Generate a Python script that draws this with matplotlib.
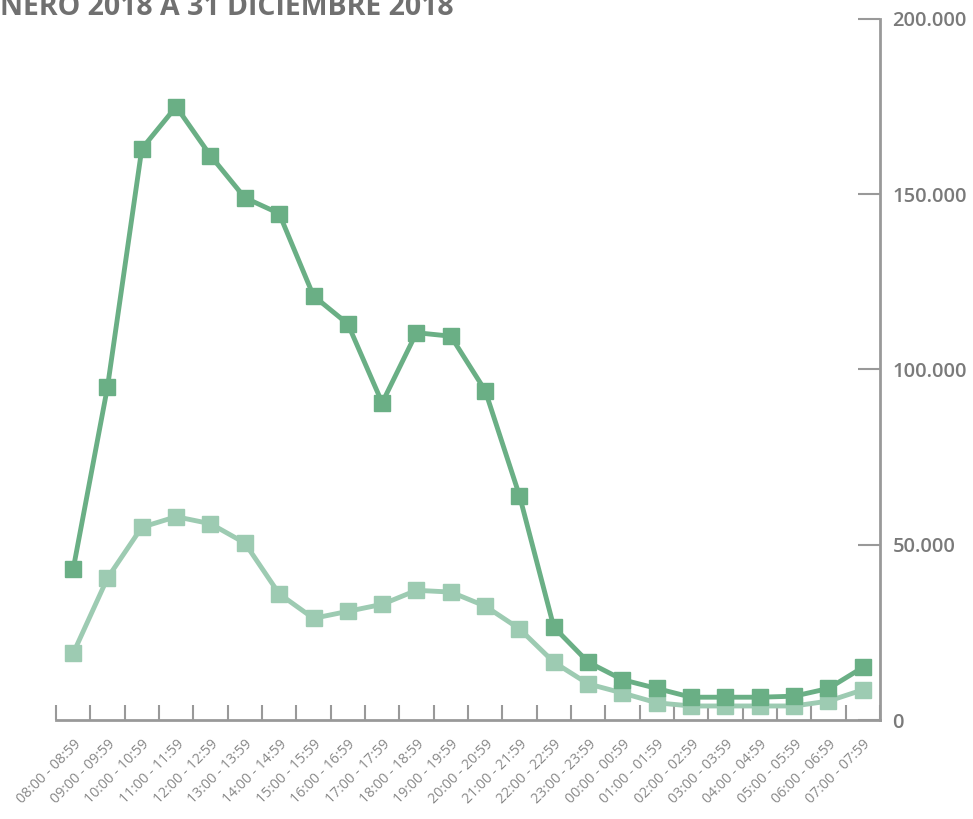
import numpy as np
from matplotlib import pyplot as plt
from matplotlib.ticker import FuncFormatter

hours = ["08:00 - 08:59", "09:00 - 09:59", "10:00 - 10:59", "11:00 - 11:59",
         "12:00 - 12:59", "13:00 - 13:59", "14:00 - 14:59", "15:00 - 15:59",
         "16:00 - 16:59", "17:00 - 17:59", "18:00 - 18:59", "19:00 - 19:59",
         "20:00 - 20:59", "21:00 - 21:59", "22:00 - 22:59", "23:00 - 23:59",
         "00:00 - 00:59", "01:00 - 01:59", "02:00 - 02:59", "03:00 - 03:59",
         "04:00 - 04:59", "05:00 - 05:59", "06:00 - 06:59", "07:00 - 07:59"]
serie_a = [43000, 95000, 163000, 175000, 161000, 149000, 144500, 121000,
           113000, 90500, 110500, 109500, 94000, 64000, 26500, 16500,
           11500, 9000, 6500, 6500, 6500, 6800, 9000, 15000]
serie_b = [19000, 40500, 55000, 58000, 56000, 50500, 36000, 29000,
           31000, 33000, 37000, 36500, 32500, 26000, 16500, 10300,
           7700, 4900, 4000, 4000, 4000, 4000, 5400, 8600]
title = "NERO 2018 A 31 DICIEMBRE 2018"

dark = "#6aaf85"
light = "#9dcbb2"
grey = "#999999"
text_grey = "#7a7a7a"

fig = plt.figure(figsize=(9.73, 8.19), dpi=100)
ax = fig.add_axes([56 / 973, 99 / 819, 824 / 973, 701 / 819])
x = np.arange(len(hours))

ax.plot(x, serie_b, color=light, lw=3.5, marker="s", ms=12, zorder=3)
ax.plot(x, serie_a, color=dark, lw=3.5, marker="s", ms=12, zorder=4)

ax.set_xlim(-0.5, len(hours) - 0.5)
ax.set_ylim(0, 200000)

for s in ("left", "top"):
    ax.spines[s].set_visible(False)
for s in ("bottom", "right"):
    ax.spines[s].set_color(grey)
    ax.spines[s].set_linewidth(2)

ax.yaxis.tick_right()
ax.set_yticks([0, 50000, 100000, 150000, 200000])
ax.yaxis.set_major_formatter(FuncFormatter(lambda v, p: "{:,.0f}".format(v).replace(",", ".")))
ax.tick_params(axis="y", direction="in", length=16, width=1.5, color=grey, pad=9,
               labelsize=14.5, labelcolor=text_grey)
for lab in ax.get_yticklabels():
    lab.set_fontfamily("Open Sans")
    lab.set_fontweight(600)

ax.set_xticks(x)
ax.set_xticklabels(hours, rotation=45, ha="right", rotation_mode="anchor",
                   fontsize=10.2, color="#888888", family="Open Sans")
ax.tick_params(axis="x", which="major", length=0, pad=12)
ax.set_xticks(np.arange(len(hours) + 1) - 0.5, minor=True)
ax.tick_params(axis="x", which="minor", direction="in", length=11, width=1.5, color=grey)

fig.text(0.0, 1.008, title, ha="left", va="top", fontsize=20.5, fontweight="bold",
         color="#707070", family="Open Sans")

fig.savefig("out.png", dpi=100)
plt.close("all")
